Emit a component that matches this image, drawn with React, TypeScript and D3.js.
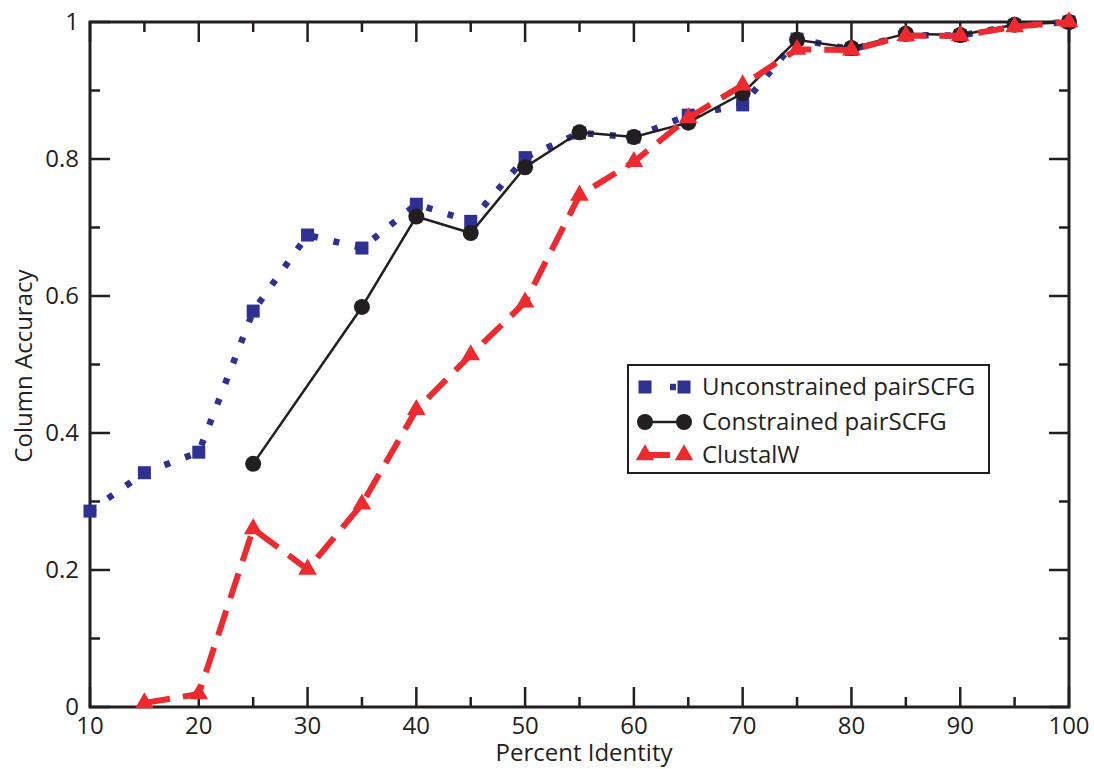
import React from 'react';
import * as d3 from 'd3';

// percent identity (x) and column accuracy per method
const identity = [10, 15, 20, 25, 30, 35, 40, 45, 50, 55, 60, 65, 70, 75, 80, 85, 90, 95, 100];
const unconstrained = [0.286, 0.342, 0.372, 0.578, 0.689, 0.670, 0.734, 0.709, 0.802, 0.838, 0.832, 0.864, 0.879, 0.975, 0.960, 0.981, 0.980, 0.995, 1.0];
const constrained = [null, null, null, 0.355, null, 0.584, 0.716, 0.692, 0.788, 0.839, 0.832, 0.853, 0.896, 0.974, 0.962, 0.983, 0.981, 0.996, 1.0];
const clustalw = [null, 0.006, 0.019, 0.260, 0.201, 0.296, 0.434, 0.514, 0.591, 0.747, 0.796, 0.860, 0.908, 0.960, 0.959, 0.980, 0.980, 0.993, 1.0];

const xMajor = [10, 20, 30, 40, 50, 60, 70, 80, 90, 100];
const xMinor = [15, 25, 35, 45, 55, 65, 75, 85, 95];
const yMajor = [0, 0.2, 0.4, 0.6, 0.8, 1];
const yMinor = [0.1, 0.3, 0.5, 0.7, 0.9];
const yLabels = ['0', '0.2', '0.4', '0.6', '0.8', '1'];

const legendNames = ['Unconstrained pairSCFG', 'Constrained pairSCFG', 'ClustalW'];

const BLUE = '#2e3192';
const BLACK = '#231f20';
const RED = '#ed2a2f';
const FONT = '"Open Sans", "Noto Sans", sans-serif';

const App = () => {
    const left = 90, right = 1069, top = 22, bottom = 707;
    const x = d3.scaleLinear().domain([10, 100]).range([left, right]);
    const y = d3.scaleLinear().domain([0, 1]).range([bottom, top]);

    const pts = (vals) => identity
        .map((d, i) => ({ x: d, y: vals[i] }))
        .filter(p => p.y !== null);

    const line = d3.line().x(d => x(d.x)).y(d => y(d.y));
    const blue = pts(unconstrained);
    const black = pts(constrained);
    const red = pts(clustalw);

    const tri = d3.symbol().type(d3.symbolTriangle).size(150)();

    const lx = 645, lx2 = 684;
    const ly = [387, 422, 455];

    return (
        <svg width={1094} height={769} style={{ position: 'absolute', left: 0, top: 0 }} fontFamily={FONT}>
            {/* frame */}
            <rect x={left} y={top} width={right - left} height={bottom - top} fill="none" stroke={BLACK} strokeWidth={3} />

            {/* ticks, mirrored on all sides */}
            {xMajor.map(t => (
                <g key={'xM' + t}>
                    <line x1={x(t)} x2={x(t)} y1={bottom} y2={bottom - 20} stroke={BLACK} strokeWidth={2.5} />
                    <line x1={x(t)} x2={x(t)} y1={top} y2={top + 20} stroke={BLACK} strokeWidth={2.5} />
                    <text x={x(t)} y={bottom + 27} textAnchor="middle" fontSize={24} fill={BLACK}>{t}</text>
                </g>
            ))}
            {xMinor.map(t => (
                <g key={'xm' + t}>
                    <line x1={x(t)} x2={x(t)} y1={bottom} y2={bottom - 10} stroke={BLACK} strokeWidth={2.5} />
                    <line x1={x(t)} x2={x(t)} y1={top} y2={top + 10} stroke={BLACK} strokeWidth={2.5} />
                </g>
            ))}
            {yMajor.map((t, i) => (
                <g key={'yM' + t}>
                    <line x1={left} x2={left + 20} y1={y(t)} y2={y(t)} stroke={BLACK} strokeWidth={2.5} />
                    <line x1={right} x2={right - 20} y1={y(t)} y2={y(t)} stroke={BLACK} strokeWidth={2.5} />
                    <text x={79} y={y(t) + 8} textAnchor="end" fontSize={24} fill={BLACK}>{yLabels[i]}</text>
                </g>
            ))}
            {yMinor.map(t => (
                <g key={'ym' + t}>
                    <line x1={left} x2={left + 10} y1={y(t)} y2={y(t)} stroke={BLACK} strokeWidth={2.5} />
                    <line x1={right} x2={right - 10} y1={y(t)} y2={y(t)} stroke={BLACK} strokeWidth={2.5} />
                </g>
            ))}

            <text x={584} y={761} textAnchor="middle" fontSize={24} fill={BLACK}>Percent Identity</text>
            <text transform="translate(32,366) rotate(-90)" textAnchor="middle" fontSize={24} fill={BLACK}>Column Accuracy</text>

            {/* unconstrained */}
            <path d={line(blue)} fill="none" stroke={BLUE} strokeWidth={6.5} strokeDasharray="6 16" />
            {blue.map(p => (
                <rect key={'b' + p.x} x={x(p.x) - 6.5} y={y(p.y) - 6.5} width={13} height={13} fill={BLUE} />
            ))}

            {/* constrained */}
            <path d={line(black)} fill="none" stroke={BLACK} strokeWidth={2.5} />
            {black.map(p => (
                <circle key={'k' + p.x} cx={x(p.x)} cy={y(p.y)} r={8} fill={BLACK} />
            ))}

            {/* clustalw */}
            <path d={line(red)} fill="none" stroke={RED} strokeWidth={6} strokeDasharray="26 13" />
            {red.map(p => (
                <path key={'r' + p.x} d={tri} transform={`translate(${x(p.x)},${y(p.y)})`} fill={RED} />
            ))}

            {/* legend */}
            <rect x={628} y={365} width={361} height={108} fill="white" stroke={BLACK} strokeWidth={2} />
            <line x1={lx} x2={lx2} y1={ly[0]} y2={ly[0]} stroke={BLUE} strokeWidth={6.5} strokeDasharray="0 25 6 20" />
            <rect x={lx - 6.5} y={ly[0] - 6.5} width={13} height={13} fill={BLUE} />
            <rect x={lx2 - 6.5} y={ly[0] - 6.5} width={13} height={13} fill={BLUE} />

            <line x1={lx} x2={lx2} y1={ly[1]} y2={ly[1]} stroke={BLACK} strokeWidth={2.5} />
            <circle cx={lx} cy={ly[1]} r={8} fill={BLACK} />
            <circle cx={lx2} cy={ly[1]} r={8} fill={BLACK} />

            <line x1={lx} x2={lx2} y1={ly[2]} y2={ly[2]} stroke={RED} strokeWidth={6} strokeDasharray="25 20" />
            <path d={tri} transform={`translate(${lx},${ly[2]})`} fill={RED} />
            <path d={tri} transform={`translate(${lx2},${ly[2]})`} fill={RED} />

            {legendNames.map((n, i) => (
                <text key={n} x={702} y={ly[i] + 8} fontSize={24} fill={BLACK}>{n}</text>
            ))}
        </svg>
    );
};

export default App;
